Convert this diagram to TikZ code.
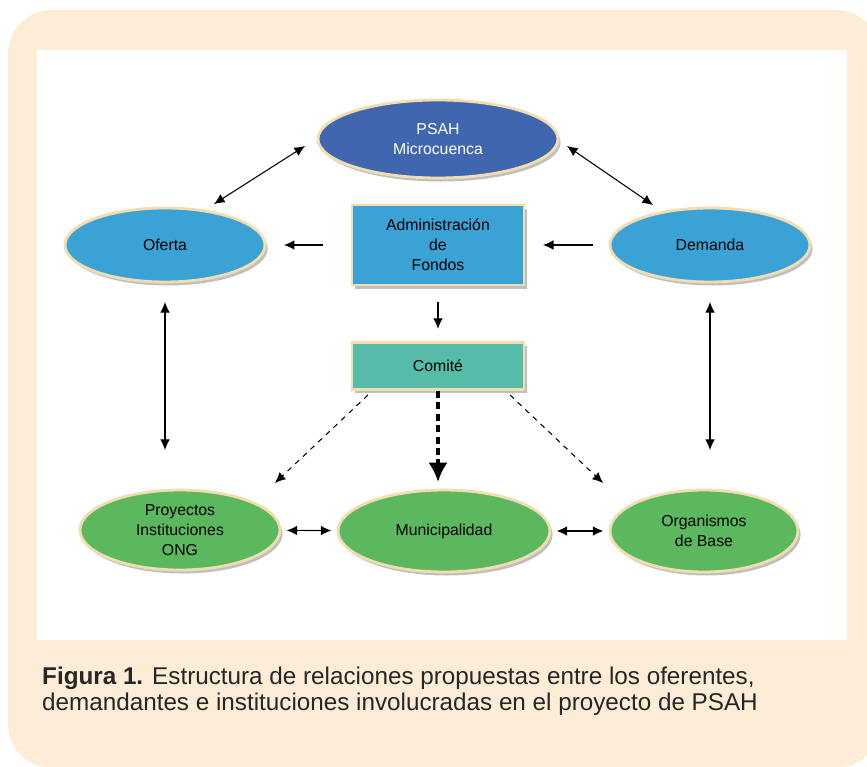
\documentclass[tikz,border=0pt]{standalone}
\usepackage{fontspec}
\setmainfont{Liberation Sans}
\usetikzlibrary{shapes.geometric,arrows.meta,shadows}

\definecolor{crema}{HTML}{FDEDD6}
\definecolor{borde}{HTML}{F2DDAE}
\definecolor{azul}{HTML}{3F66AE}
\definecolor{celeste}{HTML}{3BA2D6}
\definecolor{turquesa}{HTML}{55BCA9}
\definecolor{verde}{HTML}{5CB85F}

\begin{document}
\begin{tikzpicture}[x=0.02cm, y=-0.02cm,
    every node/.style={font=\fontsize{9}{11.3}\selectfont, align=center},
    sombra/.style={drop shadow={shadow xshift=1.5pt, shadow yshift=-2pt, opacity=0.25, fill=black}},
    elipse/.style={ellipse, draw=borde, line width=1.6pt, sombra, inner sep=0pt},
    caja/.style={rectangle, draw=borde, line width=1.6pt, sombra, inner sep=0pt},
    flecha/.style={-{Latex[length=6pt,width=5.5pt]}, line width=0.6pt},
    doble/.style={{Latex[length=6pt,width=5.5pt]}-{Latex[length=6pt,width=5.5pt]}, line width=0.6pt},
    guion/.style={-{Latex[length=6pt,width=5.5pt]}, dashed, line width=0.6pt}]
    \useasboundingbox (0,0) rectangle (867,767);

    % Background
    \fill[crema, rounded corners=25pt] (8,10) rectangle (880,768);
    \fill[white] (37,50) rectangle (847,640);

    % Nodes
    \node[elipse, fill=azul, text=white, minimum width=4.8cm, minimum height=1.56cm] (psah) at (438,139) {PSAH\\Microcuenca};
    \node[elipse, fill=celeste, minimum width=4cm, minimum height=1.48cm] (oferta) at (165,245) {Oferta};
    \node[elipse, fill=celeste, minimum width=4cm, minimum height=1.48cm] (demanda) at (710,245) {Demanda};
    \node[caja, fill=celeste, minimum width=3.44cm, minimum height=1.6cm] (admin) at (438,245) {Administración\\de\\Fondos};
    \node[caja, fill=turquesa, minimum width=3.44cm, minimum height=0.94cm] (comite) at (438,366) {Comité};
    \node[elipse, fill=verde, minimum width=4cm, minimum height=1.6cm] (proyectos) at (180,530) {Proyectos\\Instituciones\\ONG};
    \node[elipse, fill=verde, minimum width=4.24cm, minimum height=1.64cm] (muni) at (444,531) {Municipalidad};
    \node[elipse, fill=verde, minimum width=3.76cm, minimum height=1.64cm] (base) at (704,531) {Organismos\\de Base};

    % Arrows
    \draw[doble] (305,146) -- (214,204);
    \draw[doble] (567,146) -- (653,205);
    \draw[flecha, shorten <=16pt, shorten >=10pt] (admin) -- (oferta);
    \draw[flecha, shorten <=9pt, shorten >=10pt] (demanda) -- (admin);
    \draw[flecha, shorten <=9pt, shorten >=7pt] (admin) -- (comite);
    \draw[doble] (165,302) -- (165,450);
    \draw[doble] (710,302) -- (710,450);
    \draw[guion] (368,395) -- (275,483);
    \draw[guion] (510,395) -- (603,483);
    \draw[-{Latex[length=11pt,width=11pt]}, dashed, line width=2.4pt, dash pattern=on 4pt off 2.5pt] (comite) -- (438,482);
    \draw[doble, shorten <=3pt, shorten >=3pt] (proyectos) -- (muni);
    \draw[doble, shorten <=3pt, shorten >=3pt] (muni) -- (base);

    % Caption
    \node[anchor=north west, align=left, text=black!85, font=\fontsize{13.8}{14.8}\selectfont] (pie) at (36,661)
        {\textbf{Figura 1.} Estructura de relaciones propuestas entre los oferentes,\\demandantes e instituciones involucradas en el proyecto de PSAH};
\end{tikzpicture}
\end{document}
